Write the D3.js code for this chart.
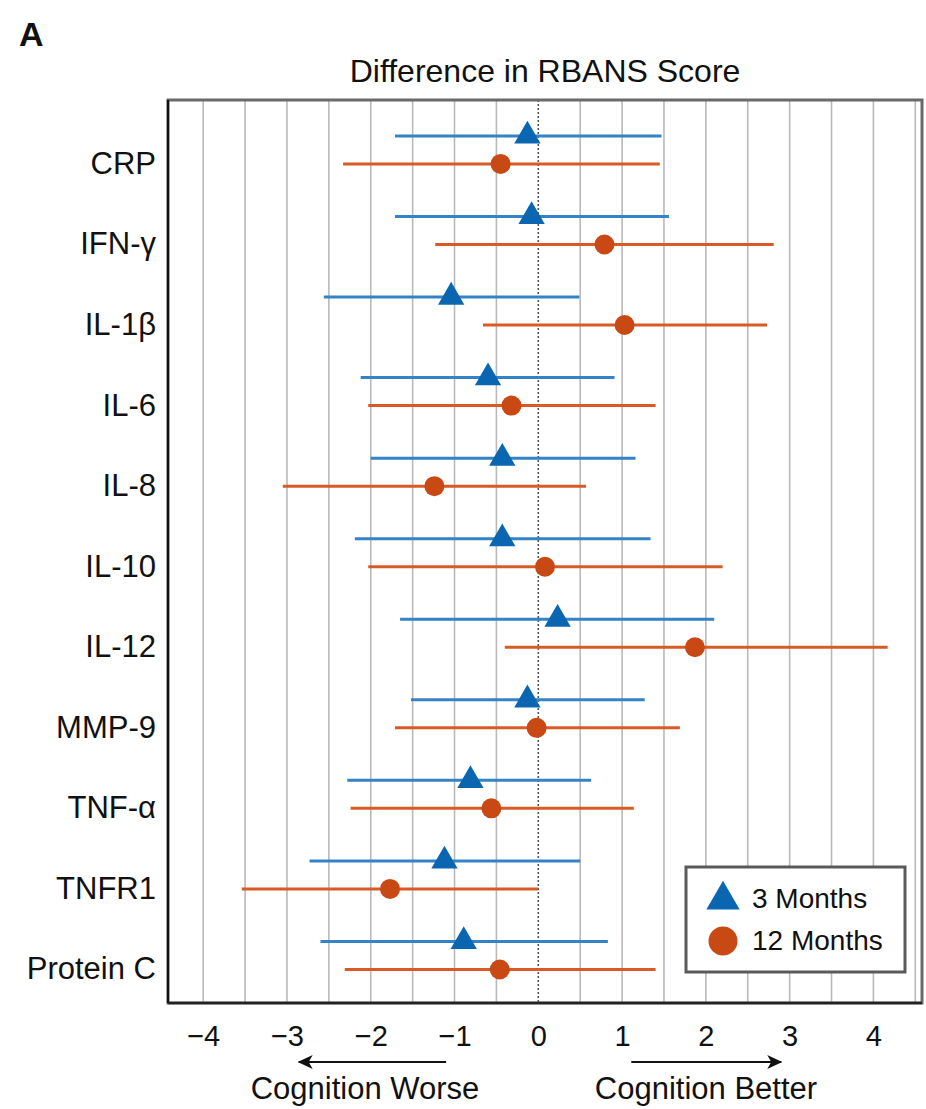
<!DOCTYPE html>
<html>
<head>
<meta charset="utf-8">
<script src="https://cdn.jsdelivr.net/npm/d3@7"></script>
<style>
  html, body { margin: 0; padding: 0; background: #fff; }
  svg { display: block; font-family: "Liberation Sans", Arial, Helvetica, sans-serif; }
</style>
</head>
<body>
<svg id="chart" width="926" height="1109"></svg>
<script>
// ---- data ----
const categories = ["CRP", "IFN-\u03b3", "IL-1\u03b2", "IL-6", "IL-8", "IL-10", "IL-12", "MMP-9", "TNF-\u03b1", "TNFR1", "Protein C"];
const series = ["3 Months", "12 Months"];
const est3  = [-0.13, -0.08, -1.04, -0.60, -0.43, -0.43, 0.23, -0.13, -0.81, -1.12, -0.89];
const lo3   = [-1.71, -1.71, -2.56, -2.12, -2.00, -2.19, -1.65, -1.52, -2.28, -2.73, -2.60];
const hi3   = [1.47, 1.56, 0.49, 0.91, 1.16, 1.34, 2.10, 1.27, 0.63, 0.50, 0.83];
const est12 = [-0.45, 0.79, 1.03, -0.32, -1.24, 0.08, 1.87, -0.02, -0.56, -1.77, -0.46];
const lo12  = [-2.33, -1.23, -0.66, -2.03, -3.05, -2.03, -0.40, -1.71, -2.24, -3.54, -2.31];
const hi12  = [1.45, 2.81, 2.73, 1.40, 0.57, 2.20, 4.17, 1.69, 1.14, 0.00, 1.40];
const xTicks = [-4, -3, -2, -1, 0, 1, 2, 3, 4];
const gridVals = [-4, -3.5, -3, -2.5, -2, -1.5, -1, -0.5, 0.5, 1, 1.5, 2, 2.5, 3, 3.5, 4, 4.5];
const panelLabel = "A";
const title = "Difference in RBANS Score";
const worseLabel = "Cognition Worse";
const betterLabel = "Cognition Better";
const arrowWorse = [-1.1, -2.86];
const arrowBetter = [1.11, 2.9];

// ---- layout ----
const svg = d3.select("#chart");
const L = 168, R = 922, T = 100, B = 1003;
const FONT = 31;
const x = d3.scaleLinear().domain([-4.42, 4.58]).range([L, R]);
const y = d3.scaleLinear().domain([-0.62, 10.59]).range([T, B]);
const off = d3.scalePoint().domain(series).range([-14, 14]);
const colors = {
  "3 Months":  { line: "#3383c6", mark: "#0a66b0" },
  "12 Months": { line: "#d85a25", mark: "#c94915" }
};

const rows = [];
categories.forEach((c, i) => {
  rows.push({ s: "3 Months", i, est: est3[i], lo: lo3[i], hi: hi3[i] });
  rows.push({ s: "12 Months", i, est: est12[i], lo: lo12[i], hi: hi12[i] });
});

// panel label
svg.append("text").attr("x", 19).attr("y", 46)
  .attr("font-size", 34).attr("font-weight", "bold").attr("fill", "#111")
  .text(panelLabel);

// title
svg.append("text").attr("x", (L + R) / 2).attr("y", 82)
  .attr("text-anchor", "middle").attr("font-size", 32).attr("fill", "#111")
  .text(title);

// grid
svg.append("g").selectAll("line").data(gridVals).join("line")
  .attr("x1", d => x(d)).attr("x2", d => x(d))
  .attr("y1", T).attr("y2", B)
  .attr("stroke", "#b9b9b9").attr("stroke-width", 1.6);

// zero dotted line
svg.append("line")
  .attr("x1", x(0)).attr("x2", x(0)).attr("y1", T).attr("y2", B)
  .attr("stroke", "#555").attr("stroke-width", 1.6).attr("stroke-dasharray", "2,2");

// frame
svg.append("rect").attr("x", L).attr("y", T).attr("width", R - L).attr("height", B - T)
  .attr("fill", "none").attr("stroke", "#6a6a6a").attr("stroke-width", 3);
svg.append("line").attr("x1", L).attr("x2", L).attr("y1", T).attr("y2", B)
  .attr("stroke", "#111").attr("stroke-width", 2.2);
svg.append("line").attr("x1", L).attr("x2", R).attr("y1", B).attr("y2", B)
  .attr("stroke", "#222").attr("stroke-width", 2.4);

// x axis labels
const xAxis = d3.axisBottom(x).tickValues(xTicks).tickSize(0).tickPadding(0)
  .tickFormat(d => d < 0 ? "\u2212" + Math.abs(d) : String(d));
const gx = svg.append("g").attr("transform", `translate(0,${B})`).call(xAxis);
gx.select(".domain").remove();
gx.selectAll("text").attr("font-size", 29).attr("fill", "#111")
  .attr("font-family", "'Liberation Sans', Arial, Helvetica, sans-serif")
  .attr("dy", 0).attr("y", 43);

// y labels
svg.append("g").selectAll("text").data(categories).join("text")
  .attr("x", 156).attr("y", (d, i) => y(i) + 24)
  .attr("text-anchor", "end").attr("font-size", FONT).attr("fill", "#111")
  .text(d => d);

// error bars
const g = svg.append("g");
g.selectAll("line.ci").data(rows).join("line").attr("class", "ci")
  .attr("x1", d => x(d.lo)).attr("x2", d => x(d.hi))
  .attr("y1", d => y(d.i) + off(d.s)).attr("y2", d => y(d.i) + off(d.s))
  .attr("stroke", d => colors[d.s].line).attr("stroke-width", 3);

const triSym = d3.symbol().type(d3.symbolTriangle).size(300);
const circSym = d3.symbol().type(d3.symbolCircle).size(Math.PI * 10 * 10);
g.selectAll("path.mk").data(rows).join("path").attr("class", "mk")
  .attr("transform", d => `translate(${x(d.est)},${y(d.i) + off(d.s)})`)
  .attr("d", d => d.s === "3 Months" ? triSym() : circSym())
  .attr("fill", d => colors[d.s].mark);

// legend
const lg = svg.append("g");
lg.append("rect").attr("x", 686).attr("y", 867).attr("width", 219).attr("height", 105)
  .attr("fill", "#fff").attr("stroke", "#5a5a5a").attr("stroke-width", 3);
const legTri = d3.symbol().type(d3.symbolTriangle).size(480);
const legCirc = d3.symbol().type(d3.symbolCircle).size(Math.PI * 14.5 * 14.5);
lg.append("path").attr("transform", "translate(723,900)").attr("d", legTri())
  .attr("fill", colors["3 Months"].mark);
lg.append("path").attr("transform", "translate(723,941)").attr("d", legCirc())
  .attr("fill", colors["12 Months"].mark);
lg.selectAll("text").data(series).join("text")
  .attr("x", 752).attr("y", (d, i) => 908 + i * 42)
  .attr("font-size", 28).attr("fill", "#111").text(d => d);

// arrows
const defs = svg.append("defs");
defs.append("marker").attr("id", "ah").attr("viewBox", "0 0 16 16")
  .attr("refX", 14).attr("refY", 8).attr("markerWidth", 16).attr("markerHeight", 16)
  .attr("markerUnits", "userSpaceOnUse").attr("orient", "auto")
  .append("path").attr("d", "M0,1 L15,8 L0,15 L4,8 Z").attr("fill", "#111");
const ay = 1062;
[arrowWorse, arrowBetter].forEach(a => {
  svg.append("line").attr("x1", x(a[0])).attr("x2", x(a[1])).attr("y1", ay).attr("y2", ay)
    .attr("stroke", "#111").attr("stroke-width", 2.2).attr("marker-end", "url(#ah)");
});
svg.append("text").attr("x", 365).attr("y", 1099).attr("text-anchor", "middle")
  .attr("font-size", FONT).attr("fill", "#111").text(worseLabel);
svg.append("text").attr("x", 706).attr("y", 1099).attr("text-anchor", "middle")
  .attr("font-size", FONT).attr("fill", "#111").text(betterLabel);
</script>
</body>
</html>
